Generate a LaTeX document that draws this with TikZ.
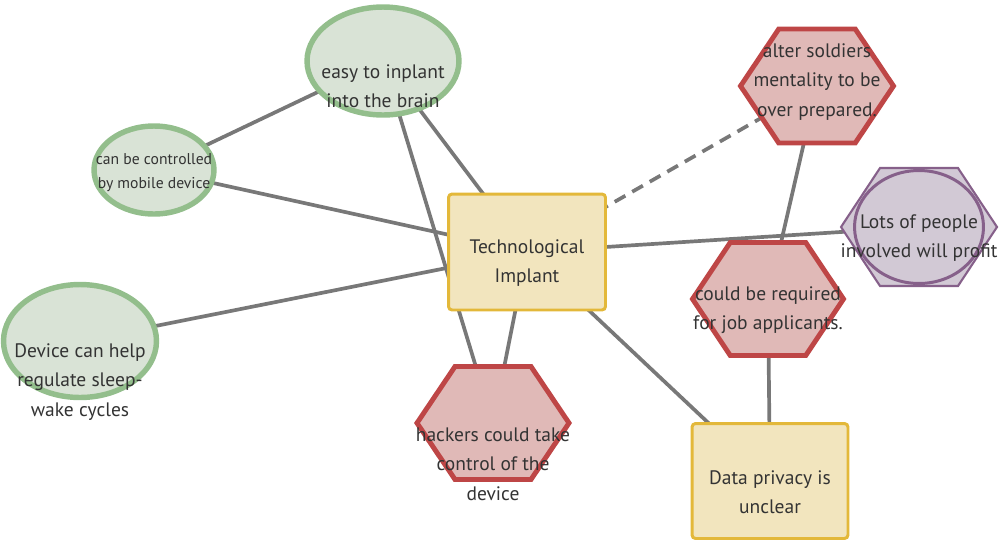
\documentclass[tikz,border=0pt]{standalone}
\usepackage{fontspec}
\setmainfont{PT Sans}
\usepackage{xcolor}
\usepackage{tikz}
\usetikzlibrary{shapes.geometric, calc, backgrounds}

\definecolor{leafgreen}{HTML}{93BE8C}
\definecolor{leaffill}{HTML}{D9E3D6}
\definecolor{mustard}{HTML}{E3B83A}
\definecolor{sandfill}{HTML}{F2E5BE}
\definecolor{brick}{HTML}{BE4646}
\definecolor{rosefill}{HTML}{E0B9B7}
\definecolor{plum}{HTML}{86608A}
\definecolor{lilacfill}{HTML}{D2C9D5}
\definecolor{linkgray}{HTML}{787878}
\definecolor{inkgray}{HTML}{333333}

% hexagon drawn round an empty box node
\newcommand{\hexoutline}[2]{%
  \draw[#2] (#1.west) -- ($(#1.north west)!.25!(#1.north east)$) -- ($(#1.north west)!.75!(#1.north east)$) -- (#1.east) -- ($(#1.south west)!.75!(#1.south east)$) -- ($(#1.south west)!.25!(#1.south east)$) -- cycle;}

\begin{document}
\begin{tikzpicture}[
    x=0.02cm, y=-0.02cm,
    font=\fontsize{11.1pt}{16.8pt}\selectfont,
    txt/.style={align=center, text=inkgray, inner sep=0pt},
    small/.style={font=\fontsize{8.9pt}{13.6pt}\selectfont},
    idea/.style={ellipse, draw=leafgreen, fill=leaffill, line width=3.1pt, inner sep=0pt},
    core/.style={rectangle, draw=mustard, fill=sandfill, line width=1.7pt, rounded corners=2pt, inner sep=0pt},
    hexbox/.style={rectangle, inner sep=0pt, outer sep=0pt},
    risk/.style={draw=brick, fill=rosefill, line width=2.8pt},
    gain/.style={draw=plum, fill=lilacfill, line width=1.2pt},
    link/.style={draw=linkgray, line width=2.1pt}
]
\useasboundingbox (0,0) rectangle (1000,542);

% positive ideas
\node[idea, minimum width=3.04cm, minimum height=2.16cm] (easy_inplant) at (383,61) {};
\node[idea, minimum width=2.4cm, minimum height=1.76cm] (mobile_ctrl) at (154,170) {};
\node[idea, minimum width=3.06cm, minimum height=2.26cm] (sleep_cycle) at (80,341) {};

% central topic and open question
\node[core, minimum width=3.14cm, minimum height=2.32cm] (implant) at (527,252) {};
\node[core, minimum width=3.12cm, minimum height=2.3cm] (privacy) at (770,481) {};

% concerns (hexagons)
\node[hexbox, minimum width=3.06cm, minimum height=2.28cm] (soldiers) at (817,86) {};
\node[hexbox, minimum width=3.02cm, minimum height=2.26cm] (job_req) at (768,299) {};
\node[hexbox, minimum width=3.04cm, minimum height=2.26cm] (hackers) at (493,423) {};
\node[hexbox, minimum width=3.12cm, minimum height=2.36cm] (profit) at (919,227) {};
\hexoutline{soldiers}{risk}
\hexoutline{job_req}{risk}
\hexoutline{hackers}{risk}
\hexoutline{profit}{gain}
\node[ellipse, draw=plum, fill=lilacfill, line width=1.7pt, minimum width=2.58cm, minimum height=2.26cm] (profit_ring) at (profit) {};

% texts
\node[txt] (easy_inplant_txt) at (383,86) {easy to inplant\\into the brain};
\node[txt, small] (mobile_ctrl_txt) at (154,173) {can be controlled\\by mobile device};
\node[txt] (sleep_cycle_txt) at (80,382) {Device can help\\regulate sleep-\\wake cycles};
\node[txt] (implant_txt) at (527,263) {Technological\\Implant};
\node[txt] (privacy_txt) at (770,492) {Data privacy is\\unclear};
\node[txt] (soldiers_txt) at (817,82) {alter soldiers\\mentality to be\\over prepared.};
\node[txt] (job_req_txt) at (768,310) {could be required\\for job applicants.};
\node[txt] (hackers_txt) at (493,464) {hackers could take\\control of the\\device};
\node[txt] (profit_txt) at (919,238) {Lots of people\\involved will profit};

% connectors
\begin{scope}[on background layer]
\draw[link] (easy_inplant.center) -- (hackers.center);
\draw[link] (easy_inplant.center) -- (implant.center);
\draw[link] (mobile_ctrl.center) -- (easy_inplant.center);
\draw[link] (mobile_ctrl.center) -- (implant.center);
\draw[link] (sleep_cycle.center) -- (implant.center);
\draw[link] (implant.center) -- (hackers.center);
\draw[link] (implant.center) -- (privacy.center);
\draw[link] (implant.center) -- (profit.center);
\draw[link, dash pattern=on 7pt off 4.5pt] (implant.center) -- (soldiers.center);
\draw[link] (soldiers.center) -- (job_req.center);
\draw[link] (job_req.center) -- (privacy.center);
\end{scope}

\end{tikzpicture}
\end{document}
